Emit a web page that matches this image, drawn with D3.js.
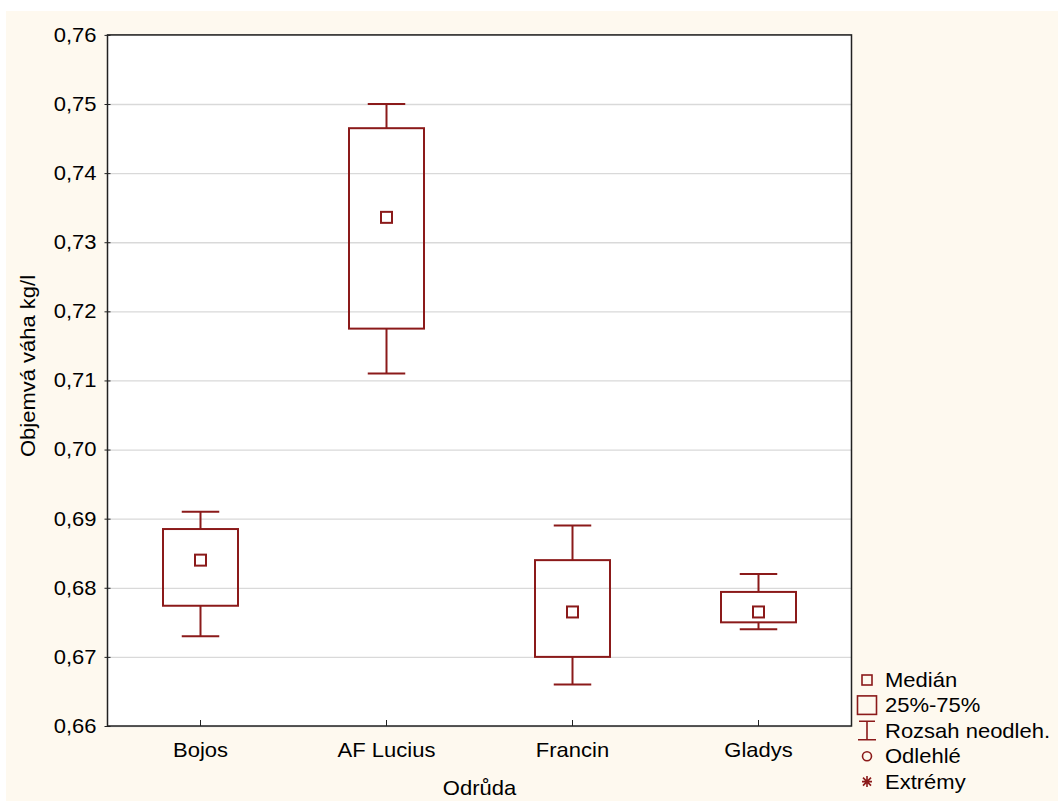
<!DOCTYPE html>
<html>
<head>
<meta charset="utf-8">
<script src="https://cdn.jsdelivr.net/npm/d3@7"></script>
<style>
  body { margin: 0; background: #fff; }
  text { font-family: "Liberation Sans", Arial, sans-serif; fill: #000; }
</style>
</head>
<body>
<div id="chart"></div>
<script>
// data
var categories = ["Bojos", "AF Lucius", "Francin", "Gladys"];
var whiskerMin = [0.673, 0.711, 0.666, 0.674];
var q1 = [0.6774, 0.7175, 0.670, 0.675];
var median = [0.684, 0.7336, 0.6765, 0.6765];
var q3 = [0.6885, 0.7465, 0.684, 0.6794];
var whiskerMax = [0.691, 0.750, 0.689, 0.682];
var yTicks = [0.66, 0.67, 0.68, 0.69, 0.70, 0.71, 0.72, 0.73, 0.74, 0.75, 0.76];
var legendLabels = ["Medián", "25%-75%", "Rozsah neodleh.", "Odlehlé", "Extrémy"];

var W = 1058, H = 801;
var m = { left: 107.5, top: 34.9, right: 851.5, bottom: 726 };
var red = "#8b1a1a";
var sx = 1.1; // text looks a bit stretched sideways

var svg = d3.select("#chart").append("svg")
  .attr("width", W).attr("height", H);

svg.append("rect")
  .attr("x", 6).attr("y", 11)
  .attr("width", W - 6).attr("height", H - 11)
  .attr("fill", "#fef9ef");

var x = d3.scaleBand().domain(categories).range([m.left, m.right]);
var y = d3.scaleLinear().domain([0.66, 0.76]).range([m.bottom, m.top]);

svg.append("rect")
  .attr("x", m.left).attr("y", m.top)
  .attr("width", m.right - m.left).attr("height", m.bottom - m.top)
  .attr("fill", "#fff");

// grid
svg.append("g")
  .attr("transform", "translate(" + m.left + ",0)")
  .call(d3.axisLeft(y).tickValues(yTicks).tickSize(-(m.right - m.left)).tickFormat(""))
  .call(function(g) {
    g.select(".domain").remove();
    g.selectAll("line").attr("stroke", "#d9d9d9").attr("stroke-width", 1.3);
  });

function stretchText(sel, size) {
  sel.attr("font-size", size + "px");
}

// y axis
var fmt = d3.format(".2f");
var yAxis = svg.append("g")
  .attr("transform", "translate(" + m.left + ",0)")
  .call(d3.axisLeft(y).tickValues(yTicks).tickSizeInner(3).tickSizeOuter(0).tickPadding(8)
    .tickFormat(function(d) { return fmt(d).replace(".", ","); }));
yAxis.select(".domain").remove();
yAxis.selectAll(".tick line").attr("x2", 3).attr("x1", -3).attr("stroke", "#222");
yAxis.selectAll(".tick text")
  .attr("font-size", "20px")
  .attr("fill", "#000")
  .attr("font-family", "Liberation Sans, Arial, sans-serif")
  .attr("transform", "translate(-11,0) scale(" + sx + ",1) translate(11,0)");

// x axis
var xAxis = svg.append("g")
  .attr("transform", "translate(0," + m.bottom + ")")
  .call(d3.axisBottom(x).tickSizeInner(-6).tickSizeOuter(0).tickPadding(17));
xAxis.select(".domain").remove();
xAxis.selectAll(".tick line").attr("stroke", "#222");
xAxis.selectAll(".tick text")
  .attr("font-size", "20px")
  .attr("fill", "#000")
  .attr("font-family", "Liberation Sans, Arial, sans-serif")
  .attr("transform", "scale(" + sx + ",1)");

// frame
svg.append("rect")
  .attr("x", m.left).attr("y", m.top)
  .attr("width", m.right - m.left).attr("height", m.bottom - m.top)
  .attr("fill", "none").attr("stroke", "#222").attr("stroke-width", 1.5);

// boxes
var boxW = 75, capW = 37.5, medS = 11;
var idx = d3.range(categories.length);
var boxes = svg.append("g").selectAll("g").data(idx).enter().append("g")
  .attr("transform", function(i) { return "translate(" + (x(categories[i]) + x.bandwidth() / 2) + ",0)"; });

boxes.append("line")
  .attr("x1", 0).attr("x2", 0)
  .attr("y1", function(i) { return y(whiskerMax[i]); })
  .attr("y2", function(i) { return y(q3[i]); })
  .attr("stroke", red).attr("stroke-width", 2);
boxes.append("line")
  .attr("x1", 0).attr("x2", 0)
  .attr("y1", function(i) { return y(q1[i]); })
  .attr("y2", function(i) { return y(whiskerMin[i]); })
  .attr("stroke", red).attr("stroke-width", 2);
boxes.append("line")
  .attr("x1", -capW / 2).attr("x2", capW / 2)
  .attr("y1", function(i) { return y(whiskerMax[i]); })
  .attr("y2", function(i) { return y(whiskerMax[i]); })
  .attr("stroke", red).attr("stroke-width", 2);
boxes.append("line")
  .attr("x1", -capW / 2).attr("x2", capW / 2)
  .attr("y1", function(i) { return y(whiskerMin[i]); })
  .attr("y2", function(i) { return y(whiskerMin[i]); })
  .attr("stroke", red).attr("stroke-width", 2);
boxes.append("rect")
  .attr("x", -boxW / 2).attr("width", boxW)
  .attr("y", function(i) { return y(q3[i]); })
  .attr("height", function(i) { return y(q1[i]) - y(q3[i]); })
  .attr("fill", "none").attr("stroke", red).attr("stroke-width", 2);
boxes.append("rect")
  .attr("x", -medS / 2).attr("width", medS)
  .attr("y", function(i) { return y(median[i]) - medS / 2; })
  .attr("height", medS)
  .attr("fill", "none").attr("stroke", red).attr("stroke-width", 2);

// axis titles
svg.append("text")
  .attr("transform", "translate(" + ((m.left + m.right) / 2) + ",795) scale(" + sx + ",1)")
  .attr("text-anchor", "middle").attr("font-size", "20px")
  .text("Odrůda");
svg.append("text")
  .attr("transform", "translate(35,366) rotate(-90) scale(" + sx + ",1)")
  .attr("text-anchor", "middle").attr("font-size", "20px")
  .text("Objemvá váha kg/l");

// legend
var lx = 867, ly0 = 680, lstep = 25.4;
var leg = svg.append("g");
legendLabels.forEach(function(lbl, i) {
  var cy = ly0 + i * lstep;
  var g = leg.append("g").attr("transform", "translate(" + lx + "," + cy + ")");
  if (i === 0) {
    g.append("rect").attr("x", -5).attr("y", -5).attr("width", 10).attr("height", 10)
      .attr("fill", "none").attr("stroke", red).attr("stroke-width", 1.6);
  } else if (i === 1) {
    g.append("rect").attr("x", -9.5).attr("y", -9.5).attr("width", 19).attr("height", 18.5)
      .attr("fill", "none").attr("stroke", red).attr("stroke-width", 1.6);
  } else if (i === 2) {
    g.append("path").attr("d", "M-8,-9.5H8M0,-9.5V9M-9,9H9")
      .attr("fill", "none").attr("stroke", red).attr("stroke-width", 1.6);
  } else if (i === 3) {
    g.append("circle").attr("r", 4.5)
      .attr("fill", "none").attr("stroke", red).attr("stroke-width", 1.6);
  } else {
    g.append("path").attr("d", "M-5,0H5M0,-5.5V5.5M-4,-4L4,4M-4,4L4,-4")
      .attr("fill", "none").attr("stroke", red).attr("stroke-width", 1.6);
  }
  leg.append("text")
    .attr("transform", "translate(885," + (cy + 7) + ") scale(" + sx + ",1)")
    .attr("font-size", "20px")
    .text(lbl);
});
</script>
</body>
</html>
